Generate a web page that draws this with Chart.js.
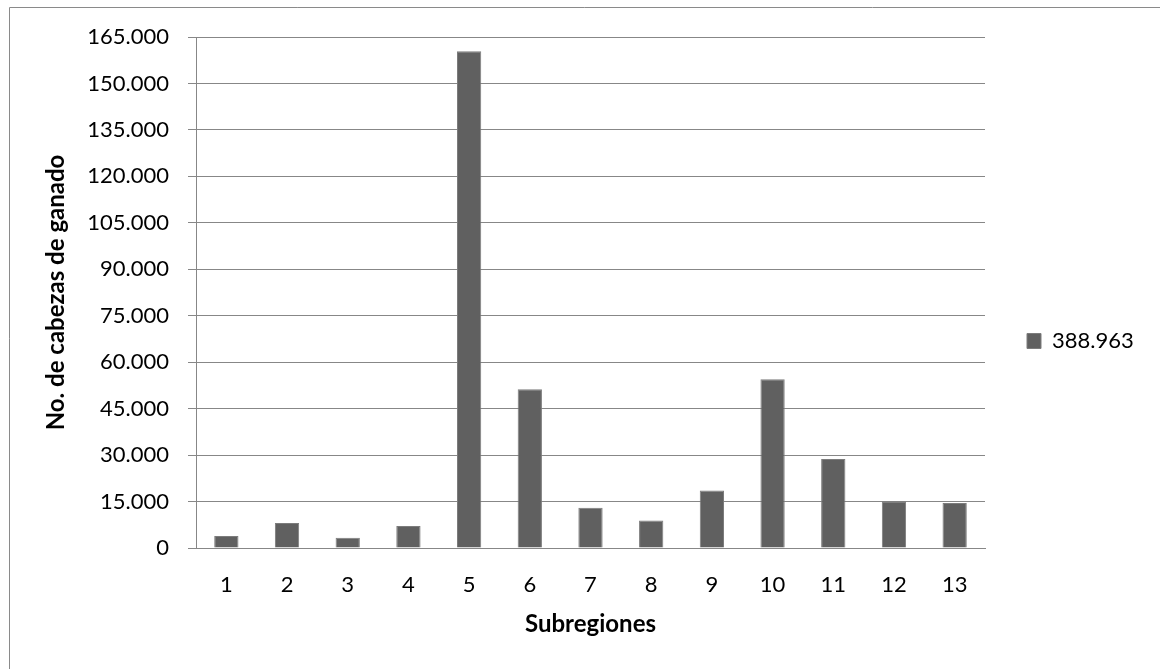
<!DOCTYPE html>
<html>
<head>
<meta charset="utf-8">
<script src="https://cdn.jsdelivr.net/npm/chart.js@4/dist/chart.umd.min.js"></script>
<style>
  html, body { margin: 0; padding: 0; background: #fff; }
  #wrap { position: relative; width: 1160px; height: 669px; }
</style>
</head>
<body>
<div id="wrap"><canvas id="c" width="1160" height="669"></canvas></div>
<script>
const categories = ['1','2','3','4','5','6','7','8','9','10','11','12','13'];
const seriesLabel = '388.963';
const seriesValues = [3900, 8100, 3300, 7100, 160400, 51300, 13000, 8900, 18600, 54500, 28700, 15100, 14500];
const yMin = 0;
const yMax = 165000;
const yStep = 15000;
const xTitle = 'Subregiones';
const yTitle = 'No. de cabezas de ganado';

function fmt(v) {
  return String(Math.round(v)).replace(/\B(?=(\d{3})+(?!\d))/g, '.');
}

const FONT = 'Lato, "Open Sans", sans-serif';
const GRID = '#878787';

const frame = {
  id: 'frame',
  beforeLayout(chart) {
    const lg = chart.legend;
    if (lg && !lg._wrapped) {
      const orig = lg.fit.bind(lg);
      lg.fit = function () { orig(); this.width = 175; };
      lg._wrapped = true;
    }
  },
  afterLayout(chart) {
    const lg = chart.legend;
    if (lg) { lg.top -= 12; lg.bottom -= 12; }
  },
  afterDraw(chart) {
    const ctx = chart.ctx;
    ctx.save();
    ctx.strokeStyle = '#8a8a8a';
    ctx.lineWidth = 1;
    ctx.beginPath();
    ctx.moveTo(9.5, 669);
    ctx.lineTo(9.5, 7.5);
    ctx.lineTo(1160, 7.5);
    ctx.stroke();
    ctx.restore();
  }
};

new Chart(document.getElementById('c'), {
  type: 'bar',
  data: {
    labels: categories,
    datasets: [{
      label: seriesLabel,
      data: seriesValues,
      backgroundColor: '#606060',
      borderColor: '#7c7c7c',
      borderWidth: 1,
      categoryPercentage: 1.0,
      barPercentage: 0.4
    }]
  },
  options: {
    responsive: false,
    animation: false,
    devicePixelRatio: 1,
    layout: { padding: { top: 37, left: 0, right: 0, bottom: 0 } },
    plugins: {
      tooltip: { enabled: false },
      legend: {
        position: 'right',
        align: 'center',
        labels: {
          boxWidth: 14,
          boxHeight: 15,
          padding: 42,
          color: '#000',
          font: { family: FONT, size: 22 }
        }
      }
    },
    scales: {
      x: {
        grid: { display: false, drawTicks: false },
        border: { display: true, color: GRID, width: 1 },
        ticks: { color: '#000', font: { family: FONT, size: 22 }, padding: 24, maxRotation: 0 },
        title: { display: true, text: xTitle, color: '#000', font: { family: FONT, size: 24, weight: 'bold' }, padding: { top: 0, bottom: 30 } },
        afterFit(scale) { scale.height = 121; }
      },
      y: {
        min: yMin,
        max: yMax,
        grid: { color: GRID, lineWidth: 1, tickLength: 8, drawTicks: true },
        border: { display: true, color: GRID, width: 1 },
        ticks: { stepSize: yStep, color: '#000', font: { family: FONT, size: 22 }, padding: 19, callback: (v) => fmt(v) },
        title: { display: true, text: yTitle, color: '#000', font: { family: FONT, size: 24, weight: 'bold' }, padding: { top: 42, bottom: 0 } },
        afterFit(scale) { scale.width = 196; }
      }
    }
  },
  plugins: [frame]
});
</script>
</body>
</html>
